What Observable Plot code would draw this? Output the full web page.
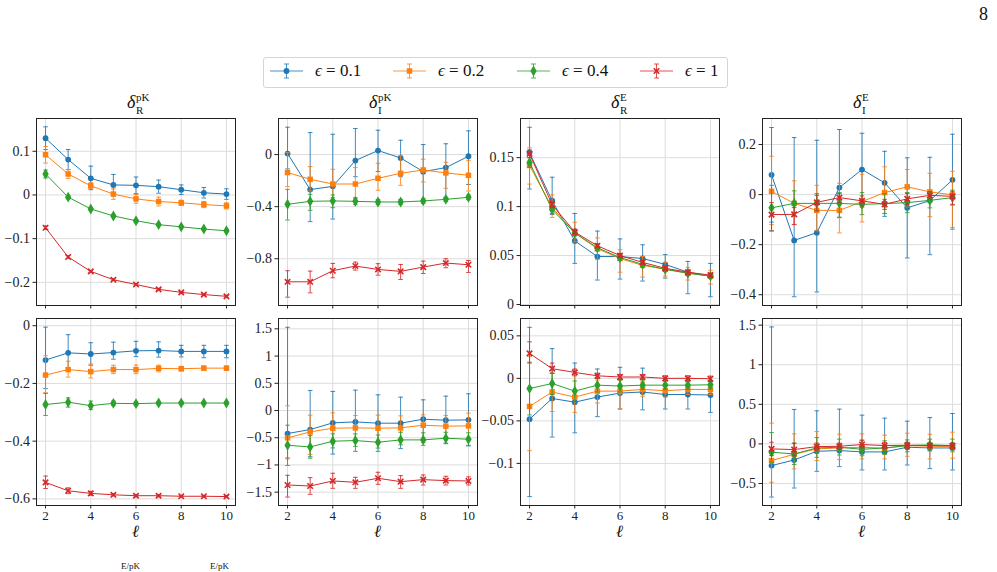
<!DOCTYPE html>
<html><head><meta charset="utf-8">
<script src="https://cdn.jsdelivr.net/npm/d3@7"></script>
<script src="https://cdn.jsdelivr.net/npm/@observablehq/plot@0.6"></script>
<style>
body{margin:0;background:#fff;}
#page{position:relative;width:997px;height:572px;overflow:hidden;font-family:"Liberation Serif",serif;color:#111;}
.abs{position:absolute;}
svg text{font-family:"Liberation Serif",serif;}
</style></head><body><div id="page"></div>
<script>
// ---------- data ----------
const ells = [2,3,4,5,6,7,8,9,10];
const seriesLabels = ["0.1","0.2","0.4","1"];
const colors = ["#1f77b4","#ff7f0e","#2ca02c","#d62728"];
const panelTitles = [["R","pK"],["I","pK"],["R","E"],["I","E"]];
const xTicks = [2,4,6,8,10];

// Row 1, panel 1 (δ_R^pK)
const p1_val = [[0.130,0.081,0.038,0.023,0.022,0.019,0.012,0.005,0.002],
  [0.092,0.048,0.021,0.002,-0.009,-0.015,-0.018,-0.022,-0.025],
  [0.048,-0.005,-0.032,-0.048,-0.059,-0.068,-0.073,-0.078,-0.082],
  [-0.075,-0.142,-0.175,-0.194,-0.205,-0.216,-0.223,-0.228,-0.232]];
const p1_hi = [[0.156,0.104,0.066,0.047,0.041,0.034,0.023,0.017,0.014],
  [0.111,0.058,0.028,0.014,0.001,-0.005,-0.012,-0.015,-0.018],
  [0.057,-0.001,-0.029,-0.045,-0.056,-0.066,-0.071,-0.076,-0.080],
  [-0.071,-0.139,-0.173,-0.192,-0.203,-0.214,-0.221,-0.226,-0.230]];
const p1_lo = [[0.104,0.058,0.012,-0.001,0.003,0.004,0.001,-0.007,-0.010],
  [0.073,0.038,0.014,-0.010,-0.019,-0.025,-0.024,-0.029,-0.032],
  [0.039,-0.009,-0.035,-0.051,-0.062,-0.070,-0.075,-0.080,-0.084],
  [-0.079,-0.145,-0.177,-0.196,-0.207,-0.218,-0.225,-0.230,-0.234]];
const p1_ticks = [-0.2,-0.1,0,0.1];

// Row 1, panel 2 (δ_I^pK)
const p2_val = [[0.008,-0.269,-0.244,-0.046,0.031,-0.026,-0.131,-0.100,-0.013],
  [-0.138,-0.190,-0.226,-0.226,-0.182,-0.144,-0.118,-0.141,-0.159],
  [-0.382,-0.359,-0.356,-0.359,-0.364,-0.364,-0.356,-0.344,-0.328],
  [-0.977,-0.977,-0.892,-0.856,-0.882,-0.897,-0.864,-0.833,-0.846]];
const p2_hi = [[0.210,0.169,0.156,0.200,0.187,0.110,0.077,0.083,0.182],
  [0.015,-0.092,-0.113,-0.100,-0.067,-0.010,-0.036,-0.059,-0.044],
  [-0.267,-0.305,-0.310,-0.335,-0.345,-0.345,-0.338,-0.328,-0.312],
  [-0.892,-0.895,-0.836,-0.826,-0.838,-0.844,-0.818,-0.800,-0.813]];
const p2_lo = [[-0.110,-0.515,-0.495,-0.170,-0.130,-0.170,-0.350,-0.330,-0.230],
  [-0.246,-0.280,-0.330,-0.330,-0.274,-0.236,-0.210,-0.259,-0.280],
  [-0.503,-0.428,-0.408,-0.385,-0.385,-0.383,-0.374,-0.360,-0.344],
  [-1.095,-1.062,-0.946,-0.887,-0.926,-0.959,-0.913,-0.869,-0.905]];
const p2_ticks = [-0.8,-0.4,0];

// Row 1, panel 3 (δ_R^E)
const p3_val = [[0.155,0.106,0.065,0.049,0.049,0.047,0.041,0.033,0.029],
  [0.142,0.099,0.073,0.057,0.047,0.040,0.036,0.032,0.029],
  [0.145,0.097,0.073,0.058,0.048,0.041,0.036,0.032,0.029],
  [0.154,0.102,0.074,0.060,0.050,0.043,0.037,0.033,0.030]];
const p3_hi = [[0.181,0.130,0.093,0.075,0.067,0.061,0.051,0.044,0.042],
  [0.160,0.112,0.084,0.068,0.056,0.049,0.043,0.038,0.035],
  [0.150,0.101,0.076,0.061,0.051,0.043,0.038,0.034,0.031],
  [0.158,0.105,0.077,0.062,0.052,0.045,0.039,0.035,0.032]];
const p3_lo = [[0.118,0.092,0.042,0.025,0.026,0.024,0.027,0.011,0.008],
  [0.123,0.089,0.064,0.046,0.033,0.028,0.029,0.025,0.021],
  [0.140,0.093,0.070,0.055,0.045,0.039,0.034,0.030,0.027],
  [0.150,0.099,0.071,0.058,0.048,0.041,0.035,0.031,0.028]];
const p3_ticks = [0,0.05,0.1,0.15];

// Row 1, panel 4 (δ_I^E)
const p4_val = [[0.079,-0.183,-0.152,0.028,0.100,0.047,-0.053,-0.024,0.059],
  [0.013,-0.035,-0.063,-0.063,-0.028,0.008,0.031,0.011,-0.001],
  [-0.053,-0.035,-0.035,-0.035,-0.039,-0.036,-0.032,-0.023,-0.012],
  [-0.080,-0.079,-0.031,-0.012,-0.025,-0.039,-0.017,-0.003,-0.007]];
const p4_hi = [[0.268,0.228,0.217,0.260,0.245,0.173,0.147,0.149,0.241],
  [0.153,0.055,0.037,0.045,0.081,0.111,0.100,0.085,0.093],
  [0.037,0.015,0.004,0.008,0.008,0.004,0.008,0.007,0.018],
  [-0.032,-0.052,-0.003,0.004,-0.005,-0.019,0.005,0.012,0.013]];
const p4_lo = [[-0.110,-0.408,-0.389,-0.092,-0.050,-0.087,-0.253,-0.240,-0.138],
  [-0.120,-0.119,-0.145,-0.153,-0.109,-0.075,-0.050,-0.088,-0.131],
  [-0.145,-0.085,-0.065,-0.090,-0.080,-0.076,-0.072,-0.053,-0.042],
  [-0.145,-0.120,-0.065,-0.032,-0.045,-0.059,-0.039,-0.018,-0.039]];
const p4_ticks = [-0.4,-0.2,0,0.2];

// Row 2, panel 5
const p5_val = [[-0.119,-0.094,-0.098,-0.093,-0.087,-0.086,-0.089,-0.089,-0.089],
  [-0.171,-0.152,-0.159,-0.152,-0.152,-0.148,-0.149,-0.147,-0.147],
  [-0.273,-0.265,-0.277,-0.269,-0.270,-0.268,-0.268,-0.268,-0.268],
  [-0.543,-0.572,-0.581,-0.586,-0.589,-0.589,-0.591,-0.591,-0.592]];
const p5_hi = [[-0.005,-0.031,-0.059,-0.057,-0.054,-0.056,-0.068,-0.068,-0.068],
  [-0.104,-0.123,-0.133,-0.137,-0.136,-0.137,-0.141,-0.140,-0.140],
  [-0.235,-0.250,-0.261,-0.261,-0.264,-0.263,-0.263,-0.264,-0.264],
  [-0.521,-0.562,-0.574,-0.582,-0.585,-0.585,-0.588,-0.588,-0.589]];
const p5_lo = [[-0.218,-0.154,-0.137,-0.116,-0.107,-0.109,-0.108,-0.111,-0.111],
  [-0.232,-0.178,-0.181,-0.166,-0.166,-0.160,-0.157,-0.155,-0.155],
  [-0.311,-0.282,-0.290,-0.277,-0.276,-0.273,-0.273,-0.272,-0.272],
  [-0.564,-0.582,-0.588,-0.590,-0.593,-0.593,-0.594,-0.594,-0.595]];
const p5_ticks = [-0.6,-0.4,-0.2,0];

// Row 2, panel 6
const p6_val = [[-0.423,-0.350,-0.227,-0.209,-0.233,-0.233,-0.160,-0.178,-0.172],
  [-0.503,-0.393,-0.325,-0.319,-0.325,-0.319,-0.270,-0.288,-0.282],
  [-0.638,-0.669,-0.564,-0.552,-0.583,-0.540,-0.540,-0.509,-0.528],
  [-1.368,-1.387,-1.294,-1.319,-1.245,-1.307,-1.270,-1.288,-1.294]];
const p6_hi = [[1.528,0.368,0.350,0.374,0.288,0.245,0.196,0.264,0.307],
  [0.086,-0.086,-0.043,-0.092,-0.086,-0.098,-0.080,-0.092,-0.049],
  [-0.270,-0.460,-0.430,-0.430,-0.450,-0.400,-0.410,-0.400,-0.410],
  [-1.190,-1.233,-1.153,-1.227,-1.135,-1.196,-1.184,-1.209,-1.220]];
const p6_lo = [[-0.871,-0.850,-0.800,-0.750,-0.750,-0.700,-0.520,-0.600,-0.650],
  [-0.890,-0.810,-0.600,-0.580,-0.580,-0.520,-0.590,-0.510,-0.510],
  [-1.010,-0.877,-0.687,-0.660,-0.690,-0.630,-0.640,-0.610,-0.640],
  [-1.589,-1.540,-1.429,-1.430,-1.356,-1.430,-1.368,-1.368,-1.368]];
const p6_ticks = [-1.5,-1,-0.5,0,0.5,1,1.5];

// Row 2, panel 7
const p7_val = [[-0.048,-0.0236,-0.028,-0.022,-0.0173,-0.016,-0.019,-0.019,-0.0196],
  [-0.033,-0.016,-0.022,-0.015,-0.015,-0.013,-0.0145,-0.013,-0.013],
  [-0.012,-0.006,-0.015,-0.008,-0.009,-0.008,-0.008,-0.008,-0.0075],
  [0.0294,0.0114,0.007,0.003,0.0016,0.0016,0.0,0.0,-0.0004]];
const p7_hi = [[0.060,0.035,0.018,0.011,0.013,0.012,-0.001,-0.004,-0.004],
  [0.026,0.006,0.0055,-0.002,-0.002,-0.005,-0.006,-0.007,-0.007],
  [0.019,0.006,-0.003,0.0,-0.002,-0.003,-0.003,-0.003,-0.0025],
  [0.043,0.018,0.011,0.006,0.0046,0.0046,0.003,0.003,0.0026]];
const p7_lo = [[-0.139,-0.069,-0.064,-0.045,-0.036,-0.037,-0.036,-0.036,-0.040],
  [-0.085,-0.039,-0.040,-0.029,-0.036,-0.021,-0.022,-0.019,-0.019],
  [-0.043,-0.019,-0.027,-0.016,-0.016,-0.013,-0.013,-0.013,-0.0125],
  [0.018,0.006,0.003,0.0,-0.0014,-0.0014,-0.003,-0.003,-0.0034]];
const p7_ticks = [-0.1,-0.05,0,0.05];

// Row 2, panel 8
const p8_val = [[-0.274,-0.203,-0.093,-0.084,-0.101,-0.101,-0.042,-0.051,-0.051],
  [-0.211,-0.131,-0.063,-0.051,-0.042,-0.055,-0.021,-0.030,-0.030],
  [-0.105,-0.127,-0.051,-0.042,-0.068,-0.051,-0.021,-0.013,-0.021],
  [-0.063,-0.072,-0.034,-0.030,-0.008,-0.021,-0.017,-0.021,-0.025]];
const p8_hi = [[1.477,0.435,0.418,0.439,0.363,0.325,0.287,0.333,0.384],
  [0.262,0.127,0.156,0.122,0.127,0.110,0.135,0.122,0.148],
  [0.143,0.010,0.080,0.060,0.050,0.040,0.050,0.060,0.060],
  [0.021,0.008,0.010,0.010,0.040,0.020,0.020,0.010,0.010]];
const p8_lo = [[-0.671,-0.557,-0.346,-0.287,-0.329,-0.329,-0.266,-0.312,-0.329],
  [-0.485,-0.316,-0.211,-0.198,-0.190,-0.190,-0.156,-0.190,-0.181],
  [-0.230,-0.260,-0.170,-0.140,-0.150,-0.130,-0.100,-0.090,-0.100],
  [-0.148,-0.150,-0.080,-0.070,-0.050,-0.060,-0.060,-0.050,-0.060]];
const p8_ticks = [-0.5,0,0.5,1,1.5];

const yDomains = [[-0.253,0.175],[-1.159,0.277],[-0.001,0.19],[-0.443,0.304],
                  [-0.623,0.025],[-1.745,1.69],[-0.1495,0.0704],[-0.778,1.584]];

// ---------- layout ----------
const FONT = '"Liberation Serif",serif';
const page = document.getElementById("page");
const colX = [36,278,520,762];
const rowY = [118,318];
const FW = 199, FH = 187;
const symbols = ["circle","square","diamond","times"];
const symR = [2.9,3.1,3.3,2.6];
const cap = {draw(ctx,size){const w=Math.sqrt(size/Math.PI); ctx.moveTo(-w,0); ctx.lineTo(w,0);}};
const fmt = d => (d<0?"\u2212":"") + String(+Math.abs(d).toFixed(4));

const panels = [
  [p1_val,p1_lo,p1_hi,p1_ticks],[p2_val,p2_lo,p2_hi,p2_ticks],[p3_val,p3_lo,p3_hi,p3_ticks],[p4_val,p4_lo,p4_hi,p4_ticks],
  [p5_val,p5_lo,p5_hi,p5_ticks],[p6_val,p6_lo,p6_hi,p6_ticks],[p7_val,p7_lo,p7_hi,p7_ticks],[p8_val,p8_lo,p8_hi,p8_ticks]];

panels.forEach(([vals,los,his,yt],i)=>{
  const row = Math.floor(i/4), col = i%4;
  const mL=46,mR=6,mT=6,mB=row===0?12:22;
  const marks = [Plot.ruleX(xTicks,{stroke:"#dcdcdc",strokeWidth:1}), Plot.ruleY(yt,{stroke:"#dcdcdc",strokeWidth:1})];
  vals.forEach((s,k)=>{
    const d = s.map((v,j)=>({l:ells[j],v,lo:los[k][j],hi:his[k][j]}));
    marks.push(Plot.ruleX(d,{x:"l",y1:"lo",y2:"hi",stroke:colors[k],strokeWidth:1,strokeOpacity:0.85}));
    marks.push(Plot.dot(d,{x:"l",y:"lo",symbol:cap,r:2.3,fill:"none",stroke:colors[k],strokeWidth:1,strokeOpacity:0.85}));
    marks.push(Plot.dot(d,{x:"l",y:"hi",symbol:cap,r:2.3,fill:"none",stroke:colors[k],strokeWidth:1,strokeOpacity:0.85}));
    marks.push(Plot.line(d,{x:"l",y:"v",stroke:colors[k],strokeWidth:1}));
    if (symbols[k]==="times")
      marks.push(Plot.dot(d,{x:"l",y:"v",symbol:"times",r:symR[k],fill:"none",stroke:colors[k],strokeWidth:1.6}));
    else
      marks.push(Plot.dot(d,{x:"l",y:"v",symbol:symbols[k],r:symR[k],fill:colors[k],stroke:"none"}));
  });
  marks.push(Plot.frame({stroke:"#222",strokeWidth:1}));
  const svg = Plot.plot({
    width: FW+mL+mR, height: FH+mT+mB,
    marginLeft:mL, marginRight:mR, marginTop:mT, marginBottom:mB,
    style:{fontFamily:FONT,fontSize:"14px",color:"#222",background:"transparent",overflow:"visible"},
    x:{domain:[1.6,10.4],ticks:xTicks,tickSize:3.5,tickPadding:2,label:null,tickFormat: row===0 ? ()=>"" : d=>String(d)},
    y:{domain:yDomains[i],ticks:yt,tickSize:3.5,tickPadding:3,label:null,tickFormat:fmt},
    marks
  });
  svg.setAttribute("font-family",FONT);
  svg.style.fontFamily = FONT;
  svg.querySelectorAll("g").forEach(g=>{ if (g.getAttribute("font-family")) g.setAttribute("font-family",FONT); });
  svg.querySelectorAll('g[aria-label="x-axis tick label"]').forEach(g=>{ g.setAttribute("font-size","13"); g.style.fontSize="13px"; });
  svg.classList.add("abs");
  svg.style.left = (colX[col]-mL)+"px";
  svg.style.top = (rowY[row]-mT)+"px";
  page.appendChild(svg);

  if (row===1){
    const lab = document.createElement("div");
    lab.className="abs";
    lab.style.cssText = `left:${colX[col]+FW/2-20}px;top:527px;width:40px;text-align:center;font-size:17px;line-height:10px;font-style:italic;`;
    lab.textContent = "\u2113";
    page.appendChild(lab);
  }
});

// titles
panelTitles.forEach(([sub,sup],c)=>{
  const ns="http://www.w3.org/2000/svg";
  const s = document.createElementNS(ns,"svg");
  s.setAttribute("width",60); s.setAttribute("height",30);
  s.classList.add("abs");
  const cx = colX[c]+FW/2;
  s.style.left=(cx-30)+"px"; s.style.top="88px";
  const t1=document.createElementNS(ns,"text");
  t1.setAttribute("x",21); t1.setAttribute("y",20); t1.setAttribute("font-size",18); t1.setAttribute("font-style","italic"); t1.setAttribute("fill","#111");
  t1.textContent="\u03b4"; s.appendChild(t1);
  const t2=document.createElementNS(ns,"text");
  t2.setAttribute("x",30); t2.setAttribute("y",13); t2.setAttribute("font-size",11); t2.setAttribute("fill","#111");
  t2.textContent=sup; s.appendChild(t2);
  const t3=document.createElementNS(ns,"text");
  t3.setAttribute("x",30); t3.setAttribute("y",26); t3.setAttribute("font-size",11); t3.setAttribute("fill","#111");
  t3.textContent=sub; s.appendChild(t3);
  page.appendChild(s);
});

// legend
const leg = document.createElement("div");
leg.className="abs";
leg.style.cssText="left:263px;top:57px;width:463px;height:29px;border:1px solid #d5d5d5;border-radius:3px;background:#fff;";
page.appendChild(leg);
const legX = [270,393,517,640];
seriesLabels.forEach((lab,k)=>{
  const ns="http://www.w3.org/2000/svg";
  const s=document.createElementNS(ns,"svg");
  s.setAttribute("width",34); s.setAttribute("height",24);
  s.classList.add("abs"); s.style.left=legX[k]+"px"; s.style.top="59px";
  const sym = {circle:d3.symbolCircle,square:d3.symbolSquare,diamond:d3.symbolDiamond,times:d3.symbolTimes}[symbols[k]];
  const size = Math.PI*symR[k]*symR[k];
  s.innerHTML = `<g stroke="${colors[k]}" stroke-opacity="0.8" fill="none">
    <line x1="0" y1="12" x2="33" y2="12" stroke-width="1.2"/>
    <line x1="16.5" y1="5" x2="16.5" y2="19"/>
    <line x1="14" y1="5" x2="19" y2="5"/>
    <line x1="14" y1="19" x2="19" y2="19"/></g>
    <path transform="translate(16.5,12)" d="${d3.symbol(sym,size)()}" ${symbols[k]==="times"?`fill="none" stroke="${colors[k]}" stroke-width="1.6"`:`fill="${colors[k]}"`}/>`;
  page.appendChild(s);
  const t=document.createElement("div");
  t.className="abs";
  t.style.cssText=`left:${legX[k]+45}px;top:61px;font-size:17px;line-height:20px;white-space:nowrap;`;
  t.innerHTML=`<i>\u03f5</i> = ${lab}`;
  page.appendChild(t);
});

// page number and cut-off caption fragments
const pn=document.createElement("div"); pn.className="abs";
pn.style.cssText="left:979px;top:4px;font-size:18px;line-height:20px;"; pn.textContent="8"; page.appendChild(pn);
[[121,"E/pK"],[210,"E/pK"]].forEach(([x,t])=>{
  const d=document.createElement("div"); d.className="abs";
  d.style.cssText=`left:${x}px;top:561px;font-size:9px;line-height:10px;`; d.textContent=t; page.appendChild(d);
});
</script></body></html>
